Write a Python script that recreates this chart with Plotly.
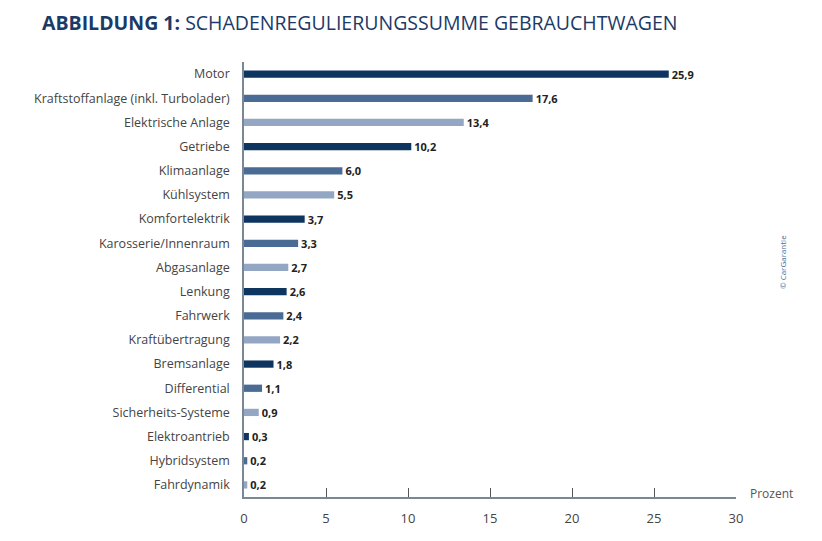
import plotly.graph_objects as go

categories = ["Motor", "Kraftstoffanlage (inkl. Turbolader)", "Elektrische Anlage", "Getriebe",
              "Klimaanlage", "Kühlsystem", "Komfortelektrik", "Karosserie/Innenraum",
              "Abgasanlage", "Lenkung", "Fahrwerk", "Kraftübertragung", "Bremsanlage",
              "Differential", "Sicherheits-Systeme", "Elektroantrieb", "Hybridsystem", "Fahrdynamik"]
values = [25.9, 17.6, 13.4, 10.2, 6.0, 5.5, 3.7, 3.3, 2.7, 2.6, 2.4, 2.2, 1.8, 1.1, 0.9, 0.3, 0.2, 0.2]
palette = ["#0e3560", "#4a6b94", "#93a7c4"]
x_ticks = [0, 5, 10, 15, 20, 25, 30]

colors = [palette[i % 3] for i in range(len(values))]
texts = [f"{v:.1f}".replace(".", ",") for v in values]

fig = go.Figure(go.Bar(
    x=values, y=categories, orientation="h",
    marker=dict(color=colors, line=dict(width=0)),
    width=0.3,
    text=texts, textposition="outside", cliponaxis=False, constraintext="none",
    textfont=dict(family="Open Sans", size=11, color="#222"),
    texttemplate="<b>%{text}</b>",
))

fig.update_layout(
    width=814, height=533,
    margin=dict(l=236, r=86, t=54, b=44),
    paper_bgcolor="white", plot_bgcolor="white",
    showlegend=False,
    font=dict(family="Open Sans", color="#444"),
    xaxis=dict(range=[0, 30], tickvals=x_ticks, showgrid=False, zeroline=False, automargin=False,
               showline=True, linecolor="#7a8796", linewidth=1.5,
               ticks="inside", ticklen=9, tickcolor="#555", tickwidth=1,
               tickfont=dict(size=13, color="#444"), ticklabelstandoff=9),
    yaxis=dict(categoryorder="array", categoryarray=categories, autorange=False, automargin=False,
               range=[len(categories) - 0.5, -0.5], showgrid=False, zeroline=False,
               showline=True, linecolor="#7a8796", linewidth=1.5, ticks="",
               tickfont=dict(size=12.5, color="#444"), ticklabelstandoff=10),
    annotations=[
        dict(text="<b>ABBILDUNG 1:</b> SCHADENREGULIERUNGSSUMME GEBRAUCHTWAGEN",
             xref="paper", yref="paper", x=-0.414, y=1.0, xanchor="left", yanchor="bottom",
             xshift=0, yshift=24, showarrow=False, font=dict(family="Open Sans", size=19.5, color="#1b3a66")),
        dict(text="Prozent", xref="paper", yref="paper", x=1.0, y=0, xanchor="left", yanchor="bottom",
             xshift=12, yshift=-7, showarrow=False, font=dict(size=12, color="#555")),
        dict(text="© CarGarantie", xref="paper", yref="paper", x=1.0, y=0.54, xanchor="center",
             yanchor="middle", xshift=46, textangle=-90, showarrow=False,
             font=dict(size=8, color="#4a6b94")),
    ],
)

fig.write_html("out.html")
